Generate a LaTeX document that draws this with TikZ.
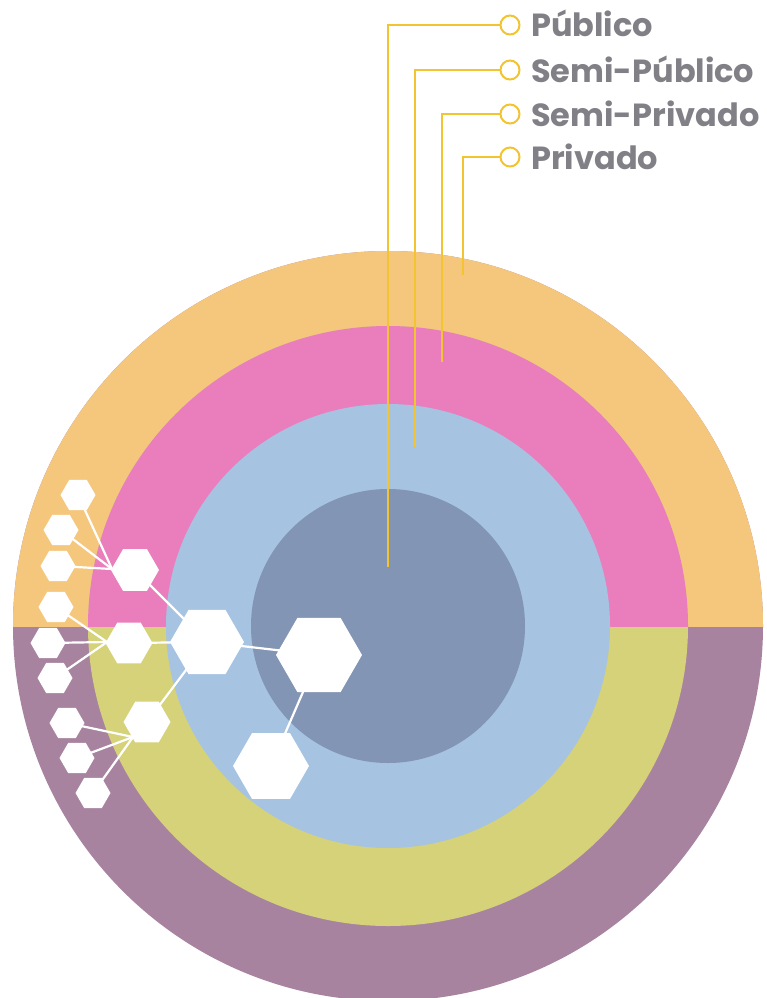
\documentclass[tikz,border=0pt]{standalone}
\usepackage{fontspec}
\setmainfont{Poppins}
\usetikzlibrary{shapes.geometric}
\definecolor{corange}{RGB}{245,199,125}
\definecolor{cpink}{RGB}{234,126,188}
\definecolor{clblue}{RGB}{166,195,226}
\definecolor{cdblue}{RGB}{130,149,180}
\definecolor{cyellow}{RGB}{213,210,122}
\definecolor{cpurple}{RGB}{168,131,160}
\definecolor{cgold}{RGB}{243,196,50}
\definecolor{cgray}{RGB}{128,128,134}
\begin{document}
\begin{tikzpicture}[x=1pt,y=-1pt,
  hexa/.style={regular polygon, regular polygon sides=6, fill=white, draw=none, inner sep=0pt, minimum size=#1},
  link/.style={white, line width=2.2pt},
  lead/.style={cgold, line width=2pt},
  ring/.style={circle, draw=cgold, line width=2pt, fill=white, minimum size=19pt, inner sep=0pt},
  lbl/.style={anchor=base west, text=cgray, font=\bfseries\fontsize{32}{36}\selectfont, inner sep=0pt}]
\useasboundingbox (0,0) rectangle (766,998);
\coordinate (C) at (388,626);
% rings
\fill[cpurple] (C) circle[radius=375];
\begin{scope}
  \clip (0,0) rectangle (766,626);
  \fill[corange] (C) circle[radius=375];
\end{scope}
\fill[cyellow] (C) circle[radius=300];
\begin{scope}
  \clip (0,0) rectangle (766,626);
  \fill[cpink] (C) circle[radius=300];
\end{scope}
\fill[clblue] (C) circle[radius=222];
\fill[cdblue] (C) circle[radius=137];
% legend
\node[ring] (c1) at (510,25) {};
\node[ring] (c2) at (510,70) {};
\node[ring] (c3) at (510,114) {};
\node[ring] (c4) at (510,157) {};
\node[lbl] (l1) at (531,37) {Público};
\node[lbl] (l2) at (531,82) {Semi-Público};
\node[lbl] (l3) at (531,126) {Semi-Privado};
\node[lbl] (l4) at (531,169) {Privado};
\coordinate (e1) at (388,567);
\coordinate (e2) at (415,447);
\coordinate (e3) at (442,362);
\coordinate (e4) at (463,275);
\draw[lead] (c1.west) -| (e1);
\draw[lead] (c2.west) -| (e2);
\draw[lead] (c3.west) -| (e3);
\draw[lead] (c4.west) -| (e4);
% hex network coordinates
\coordinate (pB) at (207,642);
\coordinate (pR) at (319,655);
\coordinate (pD) at (271,766);
\coordinate (pU) at (135,570);
\coordinate (pM) at (129,643);
\coordinate (pL) at (147,722);
\coordinate (jU) at (112,569);
\coordinate (jM) at (107,642);
\coordinate (jL) at (133,737);
\coordinate (p1) at (78,495);
\coordinate (p2) at (61,530);
\coordinate (p3) at (58,566);
\coordinate (p4) at (56,607);
\coordinate (p5) at (48,643);
\coordinate (p6) at (55,678);
\coordinate (p7) at (67,723);
\coordinate (p8) at (77,758);
\coordinate (p9) at (93,793);
% links
\draw[link] (pB) -- (pR);
\draw[link] (pR) -- (pD);
\draw[link] (pB) -- (pU);
\draw[link] (pB) -- (pM);
\draw[link] (pB) -- (pL);
\draw[link] (p1) -- (jU);
\draw[link] (p2) -- (jU);
\draw[link] (p3) -- (jU);
\draw[link] (p4) -- (jM);
\draw[link] (p5) -- (jM);
\draw[link] (p6) -- (jM);
\draw[link] (p7) -- (jL);
\draw[link] (p8) -- (jL);
\draw[link] (p9) -- (jL);
% hexagons
\node[hexa=74pt] (hB) at (pB) {};
\node[hexa=86pt] (hR) at (pR) {};
\node[hexa=76pt] (hD) at (pD) {};
\node[hexa=48pt] (hU) at (pU) {};
\node[hexa=47pt] (hM) at (pM) {};
\node[hexa=47pt] (hL) at (pL) {};
\foreach \i in {1,...,9} {\node[hexa=35pt] (h\i) at (p\i) {};}
\end{tikzpicture}
\end{document}
